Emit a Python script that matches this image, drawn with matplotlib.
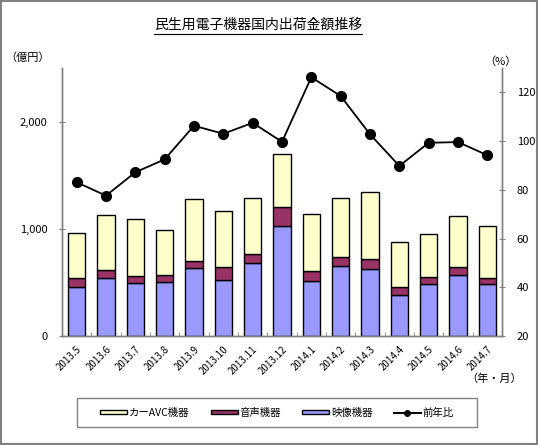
import matplotlib
matplotlib.use("Agg")
import matplotlib.pyplot as plt
import numpy as np
from matplotlib.patches import Patch, Rectangle
from matplotlib.lines import Line2D
from matplotlib.ticker import FuncFormatter

plt.rcParams['font.family'] = ['Noto Sans CJK JP', 'DejaVu Sans']

months = ['2013.5', '2013.6', '2013.7', '2013.8', '2013.9', '2013.10', '2013.11',
          '2013.12', '2014.1', '2014.2', '2014.3', '2014.4', '2014.5', '2014.6', '2014.7']
# 億円 (stack tops, converted to segment heights below)
video = [456, 543, 493, 502, 630, 527, 685, 1027, 515, 654, 623, 381, 484, 567, 481]
audio_top = [537, 620, 564, 567, 695, 642, 769, 1200, 605, 738, 716, 453, 555, 639, 537]
total = [965, 1128, 1088, 989, 1277, 1169, 1287, 1698, 1141, 1290, 1343, 877, 955, 1123, 1026]
# 前年比 (%)
yoy = [83.1, 77.6, 87.2, 92.5, 106.3, 103.0, 107.5, 99.7, 126.2, 118.5, 102.8, 89.8, 99.3, 99.6, 94.2]

video = np.array(video)
audio = np.array(audio_top) - video
car = np.array(total) - np.array(audio_top)

c_video = '#9999FF'
c_audio = '#993366'
c_car = '#FFFFCC'
gray = '#808080'

fig = plt.figure(figsize=(5.38, 4.45), dpi=100)
ax = fig.add_axes([62 / 538, 1 - 336 / 445, 440 / 538, 268 / 445])

x = np.arange(len(months))
w = 0.58
ax.bar(x, video, w, color=c_video, edgecolor='black', linewidth=1)
ax.bar(x, audio, w, bottom=video, color=c_audio, edgecolor='black', linewidth=1)
ax.bar(x, car, w, bottom=video + audio, color=c_car, edgecolor='black', linewidth=1)

ax.set_xlim(-0.5, len(months) - 0.5)
ax.set_ylim(0, 2500)
ax.set_yticks([0, 1000, 2000])
ax.yaxis.set_major_formatter(FuncFormatter(lambda v, p: f'{int(v):,}'))
ax.set_xticks(x)
ax.set_xticklabels(months, rotation=45, ha='right', rotation_mode='anchor', fontsize=7)
ax.set_xticks(np.arange(len(months) + 1) - 0.5, minor=True)
ax.tick_params(axis='x', which='major', length=0, pad=6)
ax.tick_params(axis='x', which='minor', direction='in', length=3, color=gray)
ax.tick_params(axis='y', direction='inout', length=5, color=gray, labelsize=8, pad=8)

ax2 = ax.twinx()
ax2.plot(x, yoy, color='black', linewidth=1.3, marker='o', markersize=7)
ax2.set_ylim(20, 130)
ax2.set_yticks([20, 40, 60, 80, 100, 120])
ax2.tick_params(axis='y', direction='inout', length=5, color=gray, labelsize=8, pad=8)

for a in (ax, ax2):
    a.spines['top'].set_visible(False)
    for s in ('left', 'right', 'bottom'):
        a.spines[s].set_color(gray)
        a.spines[s].set_linewidth(1)

fig.text(28 / 538, 1 - 58 / 445, '（億円）', fontsize=8, ha='center', va='center')
fig.text(500 / 538, 1 - 62 / 445, '（%）', fontsize=8, ha='center', va='center')
fig.text(494 / 538, 1 - 379 / 445, '（年・月）', fontsize=8, ha='center', va='center')

title = fig.text(258 / 538, 1 - 25 / 445, '民生用電子機器国内出荷金額推移', fontsize=10,
                 ha='center', va='center')
fig.canvas.draw()
bb = title.get_window_extent().transformed(fig.transFigure.inverted())
fig.add_artist(Line2D([bb.x0, bb.x1], [bb.y0 - 0.004, bb.y0 - 0.004],
                      transform=fig.transFigure, color='black', linewidth=0.8))

# legend box
lx, ly, lw, lh = 77 / 538, 1 - 427 / 445, 400 / 538, 29 / 445
fig.add_artist(Rectangle((lx, ly), lw, lh, transform=fig.transFigure,
                         fill=False, edgecolor=gray, linewidth=1))
handles = [
    Patch(facecolor=c_car, edgecolor='black', label='カーAVC機器'),
    Patch(facecolor=c_audio, edgecolor='black', label='音声機器'),
    Patch(facecolor=c_video, edgecolor='black', label='映像機器'),
    Line2D([0], [0], color='black', marker='o', markersize=4, label='前年比'),
]
fig.legend(handles=handles, ncol=4, loc='center',
           bbox_to_anchor=(lx, ly, lw, lh),
           fontsize=7.5, frameon=False, handlelength=2.6,
           handleheight=0.3, handletextpad=0.2, columnspacing=2.0)

fig.add_artist(Rectangle((0.002, 0.002), 0.996, 0.996, transform=fig.transFigure,
                         fill=False, edgecolor=gray, linewidth=1.5))

fig.savefig('out.png', dpi=100)
